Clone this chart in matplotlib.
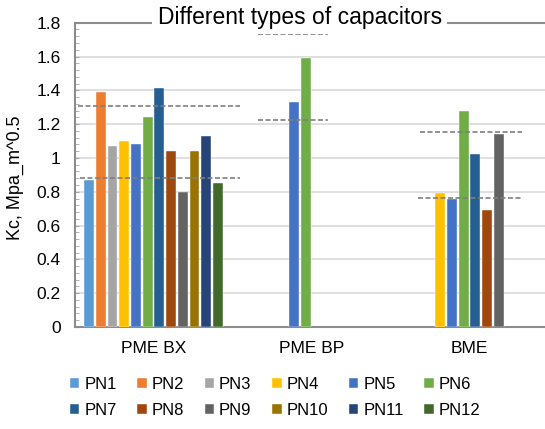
import matplotlib.pyplot as plt
import numpy as np
from matplotlib.ticker import MultipleLocator

plt.rcParams['font.family'] = ['Liberation Sans', 'DejaVu Sans']

# capacitor groups and Kc per part number (nan = not measured)
categories = ['PME BX', 'PME BP', 'BME']
series = [f'PN{i}' for i in range(1, 13)]
nan = np.nan
kc = {
    'PN1': [0.87, nan, nan],
    'PN2': [1.39, nan, nan],
    'PN3': [1.07, nan, nan],
    'PN4': [1.10, nan, 0.79],
    'PN5': [1.08, 1.33, 0.76],
    'PN6': [1.24, 1.59, 1.28],
    'PN7': [1.415, nan, 1.025],
    'PN8': [1.04, nan, 0.69],
    'PN9': [0.80, nan, 1.14],
    'PN10': [1.04, nan, nan],
    'PN11': [1.13, nan, nan],
    'PN12': [0.85, nan, nan],
}
# upper / lower reference levels for each group
upper = [1.31, 1.735, 1.155]
lower = [0.88, 1.225, 0.765]

colors = ['#5B9BD5', '#ED7D31', '#A5A5A5', '#FFC000', '#4472C4', '#70AD47',
          '#255E91', '#9E480E', '#636363', '#997300', '#264478', '#43682B']

fig = plt.figure(figsize=(5.45, 4.29), dpi=100)
ax = fig.add_axes([0.1367, 0.2378, 0.8697, 0.7093])

x = np.arange(len(categories))
step = 0.074
handles = []
for i, name in enumerate(series):
    h = ax.bar(x + (i - 5.5) * step, kc[name], width=0.062, color=colors[i],
               edgecolor='white', linewidth=0.3, label=name, zorder=3)
    handles.append(h)

# dashed reference levels, spans given per group as (start, end) offsets
upper_span = [(-0.477, 0.548), (-0.339, 0.104), (-0.315, 0.333)]
lower_span = [(-0.467, 0.548), (-0.339, 0.104), (-0.325, 0.323)]
for j in range(len(categories)):
    ax.hlines(upper[j], j + upper_span[j][0], j + upper_span[j][1],
              colors='#7F7F7F', linestyles=(0, (3, 1.5)), lw=1.2, zorder=4)
    ax.hlines(lower[j], j + lower_span[j][0], j + lower_span[j][1],
              colors='#7F7F7F', linestyles=(0, (3, 1.5)), lw=1.2, zorder=4)

ax.set_xlim(-0.5, 2.5)
ax.set_ylim(0, 1.8)
ax.yaxis.set_major_locator(MultipleLocator(0.2))
ax.yaxis.set_minor_locator(MultipleLocator(0.04))
ax.yaxis.set_major_formatter(lambda v, pos: f'{v:g}')
ax.grid(axis='y', color='#D9D9D9', lw=1.2, zorder=0)
ax.set_xticks(x)
ax.set_xticklabels(categories)
ax.tick_params(axis='x', length=0, pad=10, labelsize=12.5)
ax.tick_params(axis='y', which='both', direction='in', length=3,
               color='#A6A6A6', labelsize=12.5, pad=10)

for side in ['left', 'bottom', 'top']:
    ax.spines[side].set_color('#8C8C8C')
    ax.spines[side].set_linewidth(1.5)
ax.spines['right'].set_visible(False)

fig.text(0.55, 0.96, 'Different types of capacitors', ha='center', va='center',
         fontsize=16.5, bbox=dict(facecolor='white', edgecolor='none', pad=4))
fig.text(0.028, 0.585, 'Kc, Mpa_m^0.5', rotation=90, ha='center', va='center',
         fontsize=13)

# legend fills column by column, so interleave to get PN1..PN6 on the top row
ncol = 6
order = [r * ncol + c for c in range(ncol) for r in range(2)]
fig.legend([handles[k] for k in order], [series[k] for k in order],
           loc='center', bbox_to_anchor=(0.505, 0.073), ncol=ncol, frameon=False,
           fontsize=12, handlelength=0.55, handleheight=0.55,
           handletextpad=0.3, columnspacing=1.25, labelspacing=0.65)

fig.savefig('out.png', dpi=100)
